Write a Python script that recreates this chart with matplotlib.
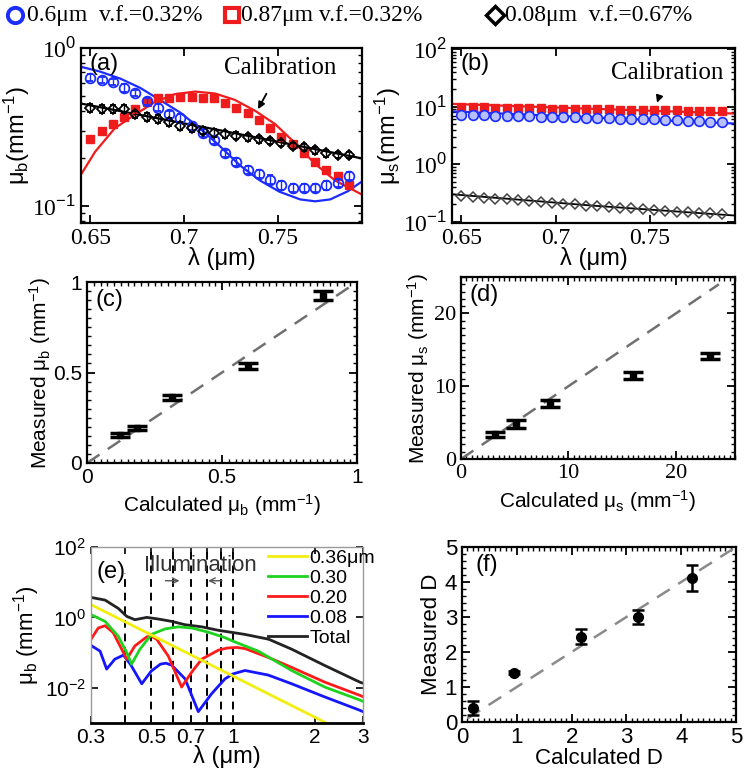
import matplotlib
matplotlib.use('Agg')
import matplotlib.pyplot as plt
from matplotlib.lines import Line2D
from matplotlib.ticker import MultipleLocator, NullFormatter, NullLocator, LogLocator

plt.rcParams['font.family'] = ['Liberation Sans', 'DejaVu Sans']
plt.rcParams['mathtext.fontset'] = 'custom'
plt.rcParams['mathtext.rm'] = 'Liberation Sans'
plt.rcParams['mathtext.it'] = 'Liberation Sans:italic'
plt.rcParams['mathtext.bf'] = 'Liberation Sans:bold'
plt.rcParams['xtick.direction'] = 'in'
plt.rcParams['ytick.direction'] = 'in'
SERIF = 'Liberation Serif'

# ---- (a) / (b) measured spectra ----
lam = [0.650, 0.656, 0.662, 0.668, 0.674, 0.680, 0.686, 0.692, 0.698, 0.704, 0.710, 0.716,
       0.722, 0.728, 0.734, 0.740, 0.746, 0.752, 0.758, 0.764, 0.770, 0.776, 0.782, 0.788]

mub_06 = [0.65, 0.63, 0.61, 0.56, 0.52, 0.46, 0.42, 0.38, 0.36, 0.32, 0.29, 0.26,
          0.215, 0.19, 0.17, 0.16, 0.147, 0.135, 0.13, 0.13, 0.13, 0.135, 0.14, 0.155]
mub_06_err = [0.03, 0.03, 0.03, 0.03, 0.025, 0.025, 0.02, 0.02, 0.02, 0.018, 0.016, 0.014,
              0.012, 0.011, 0.01, 0.009, 0.009, 0.008, 0.008, 0.008, 0.008, 0.008, 0.009, 0.01]
mub_087 = [0.265, 0.30, 0.33, 0.365, 0.41, 0.455, 0.48, 0.48, 0.49, 0.49, 0.48, 0.48,
           0.45, 0.42, 0.39, 0.35, 0.31, 0.275, 0.245, 0.215, 0.19, 0.17, 0.155, 0.136]
mub_008 = [0.42, 0.41, 0.41, 0.41, 0.38, 0.365, 0.356, 0.34, 0.32, 0.31, 0.30, 0.29,
           0.285, 0.278, 0.272, 0.265, 0.258, 0.25, 0.24, 0.235, 0.225, 0.215, 0.21, 0.21]
mub_008_err = [0.025, 0.025, 0.025, 0.025, 0.02, 0.02, 0.02, 0.02, 0.018, 0.017, 0.016, 0.015,
               0.015, 0.014, 0.014, 0.013, 0.013, 0.012, 0.012, 0.012, 0.011, 0.011, 0.01, 0.01]

cal_lam_06 = [0.645, 0.655, 0.666, 0.6765, 0.687, 0.698, 0.7085, 0.719, 0.730, 0.7405,
              0.751, 0.762, 0.770, 0.778, 0.7875, 0.795]
cal_mub_06 = [0.76, 0.71, 0.64, 0.56, 0.47, 0.39, 0.31, 0.24, 0.18, 0.145,
              0.123, 0.11, 0.107, 0.11, 0.124, 0.143]
cal_lam_087 = [0.645, 0.6525, 0.663, 0.674, 0.6845, 0.695, 0.706, 0.7166, 0.727, 0.738,
               0.7486, 0.7593, 0.7699, 0.7806, 0.795]
cal_mub_087 = [0.158, 0.22, 0.31, 0.38, 0.455, 0.51, 0.53, 0.515, 0.47, 0.40,
               0.33, 0.25, 0.185, 0.145, 0.118]
cal_lam_008 = [0.645, 0.72, 0.795]
cal_mub_008 = [0.445, 0.30, 0.20]

mus_06 = [7.2, 7.2, 7.1, 7.0, 6.9, 6.9, 6.8, 6.7, 6.6, 6.6, 6.5, 6.4,
          6.3, 6.3, 6.2, 6.1, 6.0, 6.0, 5.9, 5.8, 5.7, 5.6, 5.5, 5.45]
mus_087 = [9.7, 9.8, 9.7, 9.6, 9.6, 9.5, 9.5, 9.4, 9.3, 9.3, 9.2, 9.1,
           9.1, 9.0, 8.9, 8.9, 8.8, 8.7, 8.7, 8.6, 8.5, 8.5, 8.4, 8.3]
mus_008 = [0.28, 0.27, 0.26, 0.25, 0.245, 0.235, 0.23, 0.22, 0.21, 0.205, 0.20, 0.19,
           0.185, 0.18, 0.175, 0.17, 0.165, 0.16, 0.155, 0.15, 0.147, 0.143, 0.139, 0.135]
cal_lam_s = [0.645, 0.72, 0.795]
cal_mus_06 = [8.3, 6.5, 5.1]
cal_mus_087 = [11.2, 9.2, 7.6]
cal_mus_008 = [0.30, 0.19, 0.128]

# ---- (c) / (d) / (f) measured vs calculated ----
calc_mub = [0.122, 0.184, 0.314, 0.598, 0.875]
meas_mub = [0.155, 0.195, 0.363, 0.535, 0.925]
meas_mub_err = [0.012, 0.012, 0.015, 0.015, 0.025]
calc_mus = [3.2, 5.1, 8.3, 16.0, 23.2]
meas_mus = [3.4, 4.8, 7.6, 11.5, 14.1]
meas_mus_err = [0.35, 0.5, 0.45, 0.5, 0.4]
calc_D = [0.2, 0.95, 2.17, 3.22, 4.2]
meas_D = [0.4, 1.41, 2.44, 3.0, 4.12]
meas_D_err = [0.19, 0.04, 0.22, 0.21, 0.37]

# ---- (e) Mie backscattering spectra ----
e_lam_y = [0.3, 2.2]
e_mub_y = [2.3, 0.001]
e_lam_g = [0.3, 0.338, 0.378, 0.406, 0.423, 0.454, 0.501, 0.561, 0.628, 0.704, 0.81,
           0.933, 1.0, 1.236, 1.64, 2.17, 2.92, 3.0]
e_mub_g = [1.2, 0.77, 0.29, 0.1, 0.047, 0.125, 0.33, 0.47, 0.54, 0.5, 0.38,
           0.265, 0.21, 0.11, 0.031, 0.0105, 0.0045, 0.0041]
e_lam_r = [0.3, 0.319, 0.338, 0.362, 0.389, 0.406, 0.435, 0.481, 0.50, 0.523, 0.577, 0.646,
           0.704, 0.766, 0.881, 0.95, 1.03, 1.105, 1.345, 1.64, 2.17, 2.92, 3.0]
e_mub_r = [0.24, 0.5, 0.58, 0.37, 0.125, 0.065, 0.155, 0.28, 0.29, 0.24, 0.08, 0.0105,
           0.028, 0.065, 0.117, 0.135, 0.14, 0.13, 0.073, 0.038, 0.0145, 0.0061, 0.0056]
e_lam_b = [0.3, 0.324, 0.3425, 0.367, 0.395, 0.42, 0.461, 0.50, 0.54, 0.565, 0.594, 0.665,
           0.744, 0.833, 0.933, 1.0, 1.105, 1.345, 1.64, 2.17, 2.92, 3.0]
e_mub_b = [0.16, 0.11, 0.034, 0.065, 0.085, 0.045, 0.013, 0.03, 0.047, 0.05, 0.044, 0.018,
           0.0021, 0.0068, 0.018, 0.025, 0.031, 0.023, 0.013, 0.0055, 0.0023, 0.0021]
e_lam_t = [0.3, 0.338, 0.378, 0.406, 0.435, 0.481, 0.53, 0.594, 0.665, 0.766, 0.881,
           1.0, 1.1, 1.35, 1.64, 2.17, 2.92, 3.0]
e_mub_t = [3.7, 3.1, 1.8, 1.07, 0.86, 1.0, 0.9, 0.77, 0.62, 0.54, 0.43,
           0.37, 0.33, 0.24, 0.125, 0.043, 0.0145, 0.0135]
illum_lam = [0.4, 0.5, 0.6, 0.7, 0.8, 0.9, 1.0]
e_labels = ['0.36μm', '0.30', '0.20', '0.08', 'Total']

BLUE = '#1a2cff'
RED = '#ee1c1c'
W, H = 754, 781


def place(l, t, r, b):
    return fig.add_axes([l / W, 1 - b / H, (r - l) / W, (b - t) / H])


def box_ticks(ax):
    ax.tick_params(which='both', top=True, right=True)
    ax.tick_params(which='major', length=6, width=1.3)
    ax.tick_params(which='minor', length=3, width=1)
    for s in ax.spines.values():
        s.set_linewidth(1.6)


fig = plt.figure(figsize=(W / 100, H / 100), dpi=100)

# top legend
fig.add_artist(Line2D([15 / W], [1 - 15 / H], transform=fig.transFigure, marker='o', ms=11,
                      mfc='none', mec=BLUE, mew=2.8))
fig.text(27 / W, 1 - 15 / H, '0.6μm  v.f.=0.32%', family=SERIF, fontsize=17, va='center')
fig.add_artist(Line2D([232 / W], [1 - 15 / H], transform=fig.transFigure, marker='s', ms=10,
                      mfc='white', mec=RED, mew=3))
fig.text(241 / W, 1 - 15 / H, '0.87μm v.f.=0.32%', family=SERIF, fontsize=17, va='center')
fig.add_artist(Line2D([495 / W], [1 - 15 / H], transform=fig.transFigure, marker='D', ms=9,
                      mfc='white', mec='black', mew=2.5))
fig.text(505 / W, 1 - 15 / H, '0.08μm  v.f.=0.67%', family=SERIF, fontsize=17, va='center')

# (a)
ax = place(81, 48, 362, 223)
ax.plot(cal_lam_06, cal_mub_06, color=BLUE, lw=1.6)
ax.plot(cal_lam_087, cal_mub_087, color=RED, lw=1.6)
ax.plot(cal_lam_008, cal_mub_008, color='black', lw=1.6)
ax.plot(lam, mub_087, 's', color=RED, ms=6)
ax.errorbar(lam, mub_06, yerr=mub_06_err, fmt='o', ms=7, mfc='none', mec=BLUE, mew=1.3,
            ecolor=BLUE, elinewidth=1, capsize=2)
ax.errorbar(lam, mub_008, yerr=mub_008_err, fmt='D', ms=5.5, mfc='none', mec='black', mew=1.3,
            ecolor='black', elinewidth=1, capsize=2)
ax.set_yscale('log')
ax.set_xlim(0.645, 0.795)
ax.set_ylim(0.078, 1.0)
ax.set_xticks([0.65, 0.7, 0.75], ['0.65', '0.7', '0.75'], family=SERIF, fontsize=17)
ax.set_yticks([0.1, 1.0], ['10$^{-1}$', '10$^{0}$'], family=SERIF, fontsize=17)
ax.yaxis.set_minor_locator(LogLocator(subs=range(2, 10)))
ax.yaxis.set_minor_formatter(NullFormatter())
box_ticks(ax)
ax.set_xlabel('λ (μm)', fontsize=17, labelpad=-1)
ax.set_ylabel('μ$_\\mathrm{b}$(mm$^{-1}$)', fontsize=17, labelpad=0)
ax.text(0.03, 0.97, '(a)', transform=ax.transAxes, fontsize=17, va='top')
ax.annotate('Calibration', xy=(0.7395, 0.41), xytext=(0.7515, 0.75), family=SERIF,
            fontsize=18, ha='center', va='center',
            arrowprops=dict(arrowstyle='-|>', color='black', lw=1.3, shrinkA=10, shrinkB=0,
                            mutation_scale=10))

# (b)
ax = place(452, 48, 735, 223)
ax.plot(cal_lam_s, cal_mus_087, color=RED, lw=1.6)
ax.plot(cal_lam_s, cal_mus_06, color=BLUE, lw=1.6)
ax.plot(cal_lam_s, cal_mus_008, color='black', lw=1.3)
ax.plot(lam, mus_087, 's', color=RED, ms=6)
ax.plot(lam, mus_06, 'o', ms=7, mfc='#b8c0ff', mec=BLUE, mew=1.2)
ax.plot(lam, mus_008, 'D', ms=5.5, mfc='none', mec='#444444', mew=1.1)
ax.set_yscale('log')
ax.set_xlim(0.645, 0.795)
ax.set_ylim(0.095, 105)
ax.set_xticks([0.65, 0.7, 0.75], ['0.65', '0.7', '0.75'], family=SERIF, fontsize=17)
ax.set_yticks([0.1, 1, 10, 100], ['10$^{-1}$', '10$^{0}$', '10$^{1}$', '10$^{2}$'],
              family=SERIF, fontsize=17)
ax.yaxis.set_minor_locator(LogLocator(subs=range(2, 10)))
ax.yaxis.set_minor_formatter(NullFormatter())
box_ticks(ax)
ax.set_xlabel('λ (μm)', fontsize=17, labelpad=-1)
ax.set_ylabel('μ$_\\mathrm{s}$(mm$^{-1}$)', fontsize=17, labelpad=0)
ax.text(0.03, 0.97, '(b)', transform=ax.transAxes, fontsize=17, va='top')
ax.annotate('Calibration', xy=(0.7537, 11.7), xytext=(0.759, 38), family=SERIF,
            fontsize=18, ha='center', va='center',
            arrowprops=dict(arrowstyle='-|>', color='black', lw=1.3, shrinkA=9, shrinkB=0,
                            mutation_scale=10))

# (c)
ax = place(87, 282, 357, 463)
ax.plot([0, 1], [0, 1], ls=(0, (6, 4)), color='#707070', lw=1.8)
ax.errorbar(calc_mub, meas_mub, yerr=meas_mub_err, fmt='s', color='black', ms=4,
            capsize=7, capthick=2.5, elinewidth=2)
ax.set_xlim(0, 1)
ax.set_ylim(0, 1)
ax.set_xticks([0, 0.5, 1], ['0', '0.5', '1'], fontsize=15)
ax.set_yticks([0, 0.5, 1], ['0', '0.5', '1'], fontsize=15)
ax.xaxis.set_minor_locator(MultipleLocator(0.025))
ax.yaxis.set_minor_locator(MultipleLocator(0.05))
box_ticks(ax)
ax.set_xlabel('Calculated μ$_\\mathrm{b}$ (mm$^{-1}$)', fontsize=15)
ax.set_ylabel('Measured μ$_\\mathrm{b}$ (mm$^{-1}$)', fontsize=15, labelpad=0)
ax.text(0.03, 0.96, '(c)', transform=ax.transAxes, fontsize=17, va='top')

# (d)
ax = place(461, 277, 735, 459)
ax.plot([0, 24], [0, 24], ls=(0, (6, 4)), color='#707070', lw=1.8)
ax.errorbar(calc_mus, meas_mus, yerr=meas_mus_err, fmt='s', color='black', ms=4,
            capsize=7, capthick=2.5, elinewidth=2)
ax.set_xlim(0, 25.5)
ax.set_ylim(0, 25)
ax.set_xticks([0, 10, 20], ['0', '10', '20'], family=SERIF, fontsize=16)
ax.set_yticks([0, 10, 20], ['0', '10', '20'], family=SERIF, fontsize=16)
ax.xaxis.set_minor_locator(MultipleLocator(0.5))
ax.yaxis.set_minor_locator(MultipleLocator(1))
box_ticks(ax)
ax.set_xlabel('Calculated μ$_\\mathrm{s}$ (mm$^{-1}$)', fontsize=15)
ax.set_ylabel('Measured μ$_\\mathrm{s}$ (mm$^{-1}$)', fontsize=15, labelpad=2)
ax.text(0.03, 0.96, '(d)', transform=ax.transAxes, fontsize=17, va='top')

# (e)
ax = place(91, 547, 363, 723)
for x in illum_lam:
    top = 0.85 if x == 0.4 else 1.0
    ax.axvline(x, ymax=top, color='black', lw=1.4, ls=(0, (4, 3)))
ax.plot(e_lam_t, e_mub_t, color='#222222', lw=2, label=e_labels[4])
ax.plot(e_lam_b, e_mub_b, color='#1515ff', lw=2, label=e_labels[3])
ax.plot(e_lam_r, e_mub_r, color='#ff1a1a', lw=2, label=e_labels[2])
ax.plot(e_lam_g, e_mub_g, color='#1ed21e', lw=2, label=e_labels[1])
ax.plot(e_lam_y, e_mub_y, color='#f2ee10', lw=2, label=e_labels[0])
ax.set_xscale('log')
ax.set_yscale('log')
ax.set_xlim(0.3, 3)
ax.set_ylim(1e-3, 1e2)
ax.set_xticks([0.3, 0.4, 0.5, 0.6, 0.7, 0.8, 0.9, 1, 2, 3],
              ['0.3', '', '0.5', '', '0.7', '', '', '1', '2', '3'], fontsize=15)
ax.set_yticks([1e-2, 1, 1e2], ['10$^{-2}$', '10$^{0}$', '10$^{2}$'], fontsize=15)
ax.xaxis.set_minor_locator(NullLocator())
ax.yaxis.set_minor_locator(NullLocator())
ax.tick_params(which='both', top=True, right=True, length=5, width=1.2)
for s in ['left', 'top', 'right']:
    ax.spines[s].set_color('#9a9a9a')
    ax.spines[s].set_linewidth(1)
ax.spines['bottom'].set_linewidth(2)
h, l = ax.get_legend_handles_labels()
ax.legend(h[::-1], l[::-1], loc='upper left', bbox_to_anchor=(0.65, 0.985), frameon=False,
          fontsize=14, handlelength=2.0, handletextpad=0.15, labelspacing=0.12,
          borderpad=0, borderaxespad=0)
ax.set_xlabel('λ (μm)', fontsize=17, labelpad=-1)
ax.set_ylabel('μ$_\\mathrm{b}$ (mm$^{-1}$)', fontsize=16, labelpad=2)
ax.text(0.02, 0.92, '(e)', transform=ax.transAxes, fontsize=17, va='top')
ax.text(0.76, 30, 'Illumination', fontsize=16, color='#333333', ha='center', va='center')
ax.annotate('', xy=(0.65, 11), xytext=(0.55, 11),
            arrowprops=dict(arrowstyle='->', color='#555555', lw=1))
ax.annotate('', xy=(0.79, 11), xytext=(0.93, 11),
            arrowprops=dict(arrowstyle='->', color='#555555', lw=1))

# (f)
ax = place(462, 547, 736, 722)
ax.plot([0.1, 5], [0.1, 5], ls=(0, (6, 4)), color='#8a8a8a', lw=1.8)
ax.errorbar(calc_D, meas_D, yerr=meas_D_err, fmt='o', color='black', ms=7,
            capsize=4, capthick=1.8, elinewidth=1.8)
ax.set_xlim(0, 5)
ax.set_ylim(0, 5)
ax.set_xticks(range(6), [str(v) for v in range(6)], fontsize=16)
ax.set_yticks(range(6), [str(v) for v in range(6)], fontsize=16)
ax.xaxis.set_minor_locator(MultipleLocator(0.1))
ax.yaxis.set_minor_locator(MultipleLocator(0.2))
box_ticks(ax)
ax.set_xlabel('Calculated D', fontsize=16, labelpad=0)
ax.set_ylabel('Measured D', fontsize=16, labelpad=2)
ax.text(0.05, 0.96, '(f)', transform=ax.transAxes, fontsize=17, va='top')

fig.savefig('out.png', dpi=100)
